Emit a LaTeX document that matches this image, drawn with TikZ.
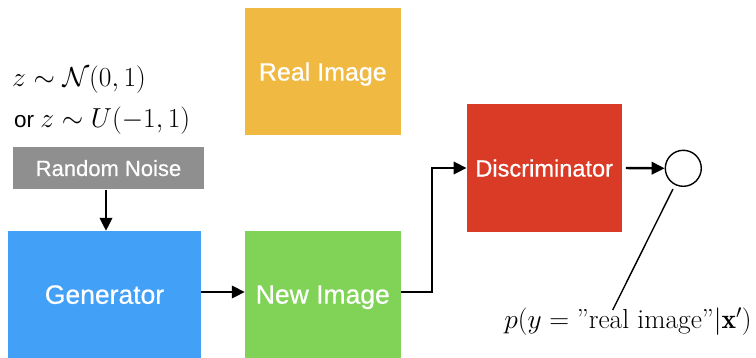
\RequirePackage{fix-cm}
\documentclass[tikz,border=0pt]{standalone}
\usepackage{fontspec}
\usepackage{amsmath}
\newfontfamily\boxfont{Liberation Sans}
\newfontfamily\blockfont[FakeBold=0.6]{Liberation Sans}
\usetikzlibrary{arrows.meta,calc}

\definecolor{realcol}{HTML}{F0BA42}
\definecolor{disccol}{HTML}{DA3B27}
\definecolor{newcol}{HTML}{81D358}
\definecolor{gencol}{HTML}{42A0F6}
\definecolor{noisecol}{HTML}{8F8F8F}

\tikzset{
  block/.style={fill=#1, text=white, inner sep=0pt, anchor=center, text depth=0pt,
    minimum width=155.7pt, minimum height=127pt},
  flow/.style={line width=2.4pt, -{Triangle[length=13pt,width=12.5pt]}},
  lead/.style={line width=1.4pt},
}

\begin{document}
\begin{tikzpicture}[x=1pt,y=-1pt]
\useasboundingbox (0,0) rectangle (756,357);

% noise prior
\node[anchor=west, inner sep=0pt] (prior) at (12,80)
  {\fontsize{27.5}{32}\selectfont $z\sim\mathcal{N}(0,1)$};
\node[anchor=west, inner sep=0pt] (prior2) at (14,120.5)
  {\fontsize{22.5}{26}\selectfont\boxfont or \fontsize{27.5}{32}\selectfont $z\sim U(-1,1)$};

% blocks
\node[block=realcol] (real) at (322.8,71.5)
  {\fontsize{25}{30}\selectfont\blockfont Real Image};
\node[block=noisecol, minimum width=191.6pt, minimum height=42.6pt] (noise) at (108.5,168)
  {\fontsize{22}{26}\selectfont\blockfont Random Noise};
\node[block=gencol, minimum width=192.4pt] (gen) at (104.5,294.5)
  {\fontsize{26.5}{30}\selectfont\blockfont Generator};
\node[block=newcol] (newimg) at (322.8,294.5)
  {\fontsize{26.5}{30}\selectfont\blockfont New Image};
\node[block=disccol, minimum width=155pt, minimum height=127.4pt] (disc) at (544.2,168)
  {\fontsize{23.6}{28}\selectfont\blockfont Discriminator};

% output unit
\node[draw, circle, line width=1.4pt, minimum size=36pt, inner sep=0pt] (out) at (683.3,168.3) {};

% probability label
\node[inner sep=0pt] (lab) at (628,322)
  {\fontsize{27.5}{32}\selectfont $p(y=\text{''real image''}|\mathbf{x}')$};
\coordinate (labtip) at (612.7,310);

% connectors
\draw[flow] ([xshift=-2.5pt]noise.south) -- ([xshift=-2.5pt]noise.south |- gen.north);
\draw[flow] ([yshift=2.5pt]gen.east) -- ([yshift=2.5pt]newimg.west);
\draw[flow] ([yshift=2.5pt]newimg.east) -- ++(31.3,0) |- (disc.west);
\draw[flow, shorten <=4pt] (disc.east) -- (out.west);
\draw[lead, shorten <=4.5pt] (out) -- (labtip);
\end{tikzpicture}
\end{document}
